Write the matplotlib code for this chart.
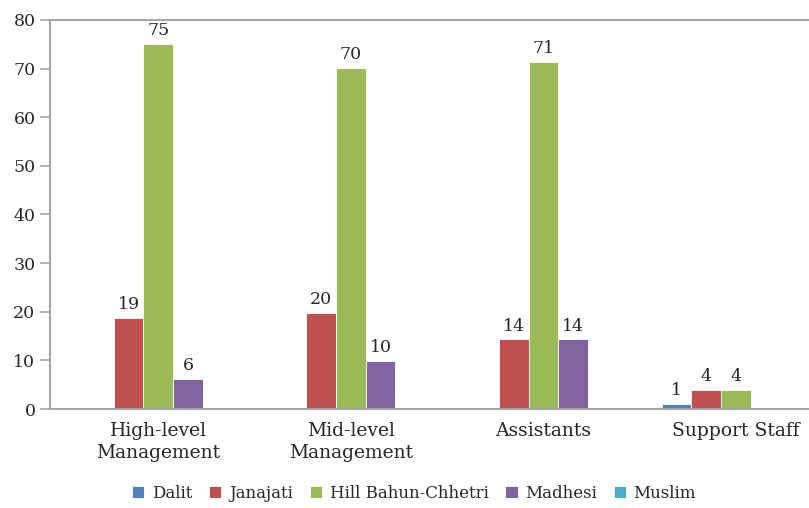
import matplotlib.pyplot as plt
import numpy as np

categories = ["High-level\nManagement", "Mid-level\nManagement", "Assistants", "Support Staff"]
series = ["Dalit", "Janajati", "Hill Bahun-Chhetri", "Madhesi", "Muslim"]
dalit = [0, 0, 0, 1.1]
janajati = [18.8, 19.8, 14.3, 3.9]
hill = [75.0, 70.2, 71.4, 3.9]
madhesi = [6.2, 9.9, 14.3, 0]
muslim = [0, 0, 0, 0]
colors = ["#4F81BD", "#C0504D", "#9BBB59", "#8064A2", "#4BACC6"]

plt.rcParams['font.family'] = ['DejaVu Serif']
txt = "#262626"
grey = "#a6a6a6"

fig = plt.figure(figsize=(8.09, 5.08), dpi=100)
ax = fig.add_axes([50 / 809, 99 / 508, 759 / 809, 389 / 508])

x = np.arange(len(categories))
w = 0.154
for i, (name, vals) in enumerate(zip(series, [dalit, janajati, hill, madhesi, muslim])):
    pos = x + (i - 2) * w
    bars = ax.bar(pos, vals, w, color=colors[i], label=name,
                  edgecolor="white", linewidth=0.6)
    for b, v in zip(bars, vals):
        if v > 0:
            ax.text(b.get_x() + b.get_width() / 2, v + 1.0, f"{v:.0f}",
                    ha="center", va="bottom", fontsize=12.5, color=txt)

ax.set_xlim(-0.5626, 3.38)
ax.set_ylim(0, 80)
ax.set_yticks(range(0, 81, 10))
ax.set_xticks(x)
ax.set_xticklabels(categories, fontsize=13.5, color=txt, linespacing=1.3)
ax.tick_params(axis="y", labelsize=12.5, labelcolor=txt, color=grey, length=7, width=1.2)
ax.tick_params(axis="x", length=0, pad=9)

for s in ["left", "bottom", "top"]:
    ax.spines[s].set_color(grey)
    ax.spines[s].set_linewidth(1.5)
ax.spines["right"].set_visible(False)

leg = ax.legend(loc="center", bbox_to_anchor=(414 / 809, 15 / 508), bbox_transform=fig.transFigure,
                ncol=5, frameon=False, fontsize=12, handlelength=0.75, handleheight=0.75,
                handletextpad=0.45, columnspacing=1.0)
for t in leg.get_texts():
    t.set_color(txt)

fig.savefig("out.png", dpi=100)
